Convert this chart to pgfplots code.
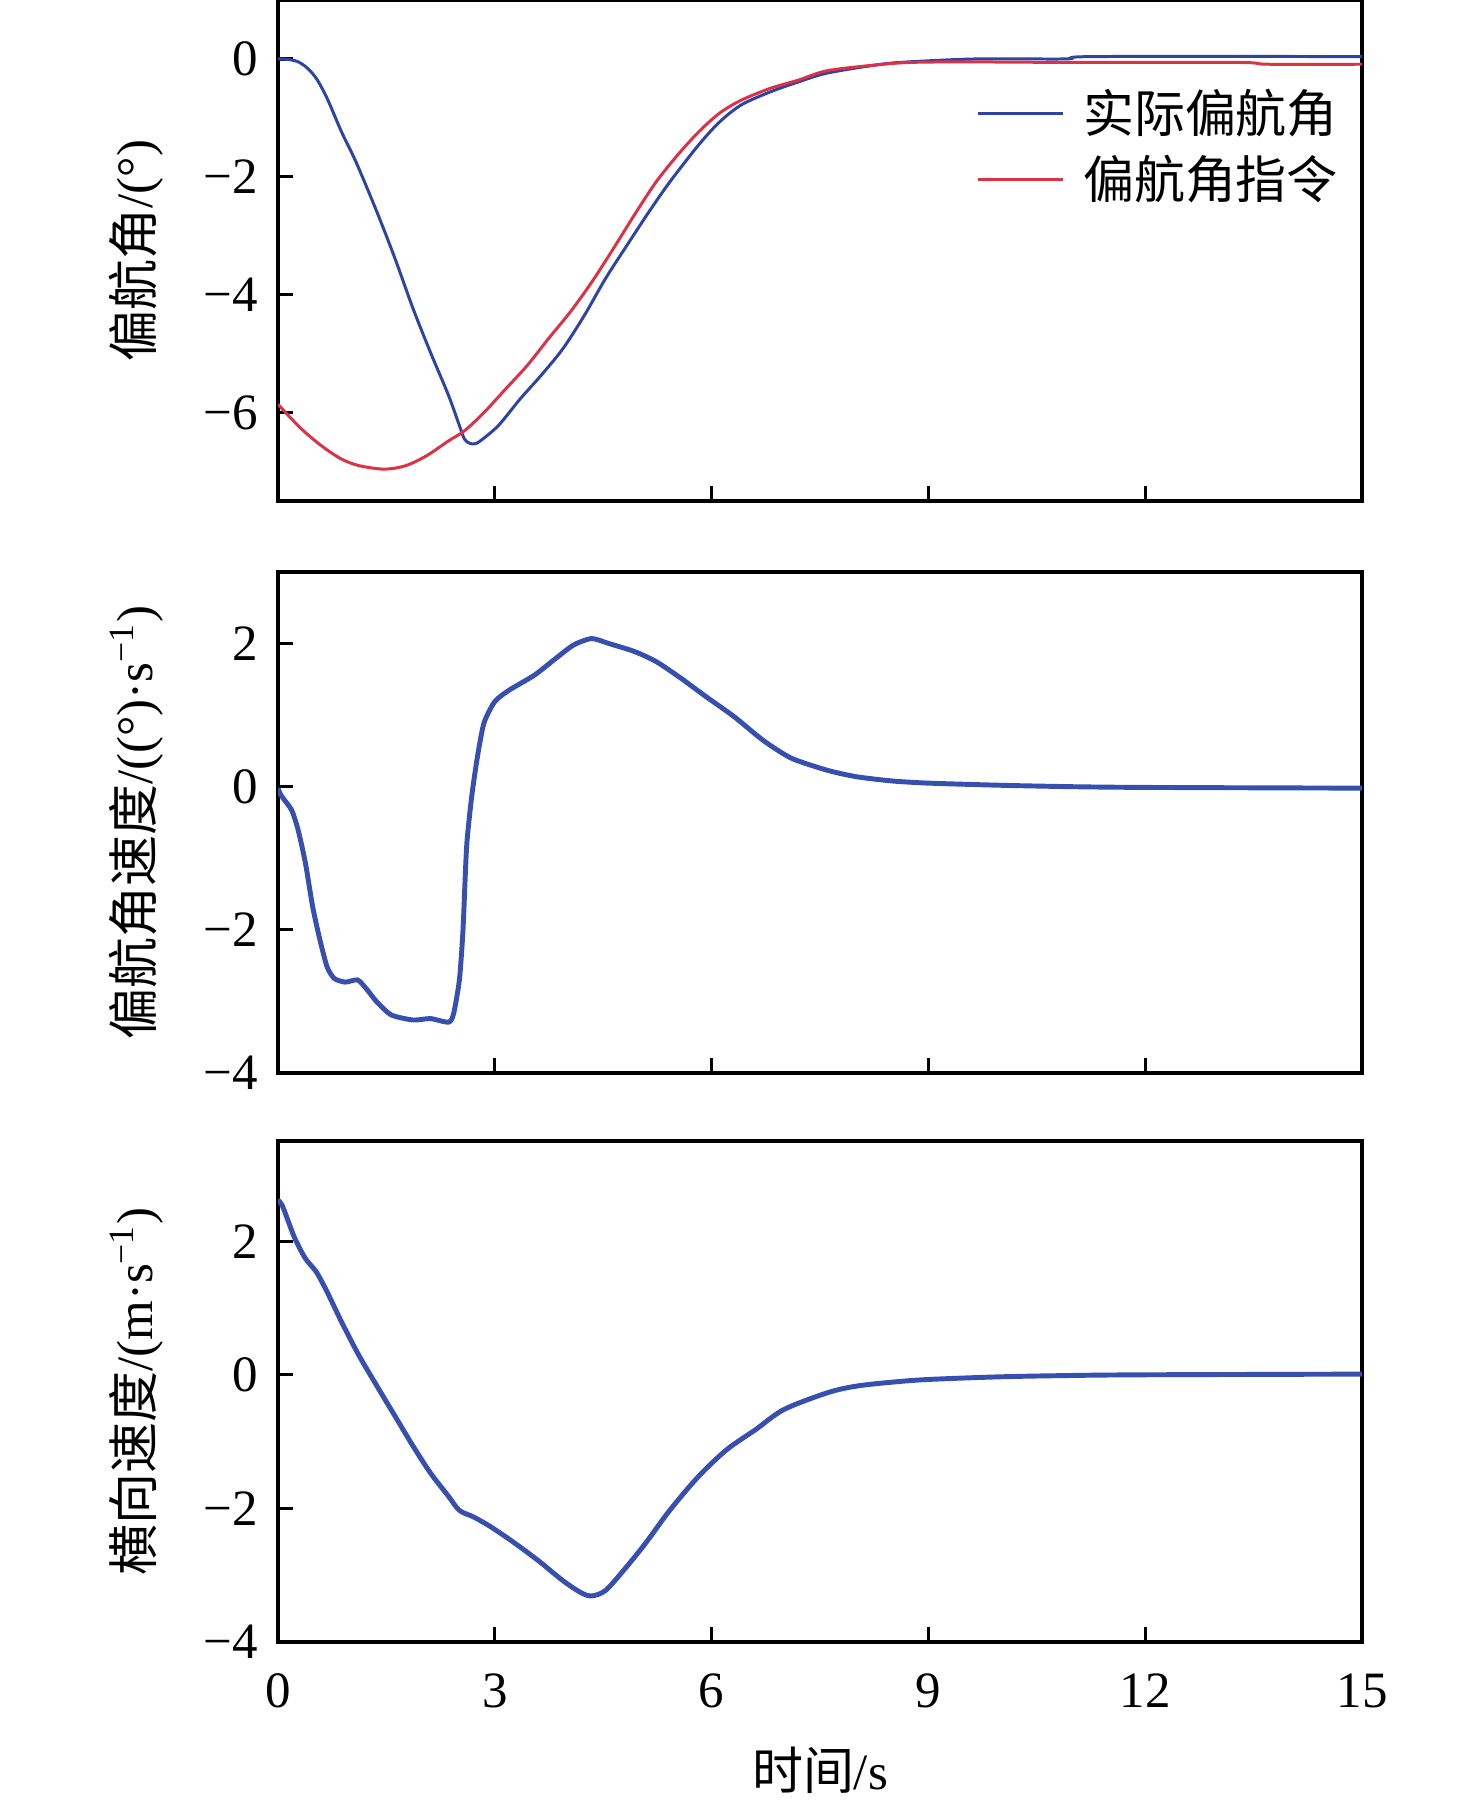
\documentclass[border=0pt]{standalone}
\usepackage{fontspec}
\setmainfont{Liberation Serif}
\newfontfamily\cjk{Noto Sans CJK SC}
\usepackage{pgfplots}
\pgfplotsset{compat=1.18}
\definecolor{cblue}{RGB}{45,68,165}
\definecolor{cblueb}{RGB}{55,80,175}
\definecolor{cred}{RGB}{220,50,72}
\pgfplotsset{
  base/.style={
    width=10.84cm, height=5.01cm, scale only axis,
    xmin=0, xmax=15,
    axis line style={line width=0.9pt},
    tick style={line width=0.9pt, black},
    major tick length=1.5mm, tick align=inside,
    xtick pos=bottom, ytick pos=left,
    xtick={0,3,6,9,12,15},
    font=\fontsize{14.5}{17}\selectfont,
    ylabel style={at={(axis description cs:-0.131,0.5)}, anchor=center},
    yticklabel style={xshift=-0.8mm},
    xticklabel style={yshift=-1.9mm},
    clip=true,
  }
}
\begin{document}
\begin{tikzpicture}
\path[use as bounding box] (0cm,0cm) rectangle (14.76cm,18.08cm);
% ---------- top ----------
\begin{axis}[base,
  at={(2.78cm,13.07cm)}, anchor=south west,
  ymin=-7.5, ymax=1,
  ytick={-6,-4,-2,0}, yticklabels={−6,−4,−2,0},
  xticklabels={},
  ylabel={{\cjk 偏航角}/(°)},
  legend style={draw=none, fill=none, at={(0.9946,0.852)}, anchor=north east,
    font=\fontsize{14.5}{17}\selectfont, row sep=0.4mm,
    legend cell align=left},
  legend image code/.code={\draw[#1] (0cm,0cm) -- (0.85cm,0cm);},
]
\addplot[cblue, line width=0.85pt, smooth, tension=0.5] coordinates {
(0,0) (0.15,-0.01) (0.28,-0.05) (0.4,-0.15) (0.53,-0.33) (0.68,-0.67)
(0.88,-1.24) (1.08,-1.75) (1.37,-2.6) (1.62,-3.39) (1.87,-4.24)
(2.11,-4.98) (2.36,-5.71) (2.51,-6.22) (2.58,-6.45) (2.65,-6.52)
(2.72,-6.53) (2.80,-6.48) (3.05,-6.22) (3.35,-5.77) (3.64,-5.37)
(3.94,-4.92) (4.24,-4.35) (4.53,-3.73) (4.83,-3.16) (5.13,-2.60)
(5.42,-2.09) (5.82,-1.46) (6.11,-1.07) (6.41,-0.78) (6.81,-0.56)
(7.2,-0.39) (7.6,-0.24) (8.29,-0.10) (8.73,-0.05) (9.67,0.0)
(10.9,0.0) (11.3,0.04) (15,0.04)
};
\addlegendentry{\hspace{1.15mm}{\cjk 实际偏航角}}
\addplot[cred, line width=0.85pt, smooth, tension=0.5] coordinates {
(0,-5.86) (0.19,-6.11) (0.38,-6.34) (0.63,-6.59) (0.88,-6.79)
(1.12,-6.90) (1.47,-6.96) (1.77,-6.90) (2.06,-6.73) (2.36,-6.48)
(2.58,-6.31) (2.85,-6.00) (3.15,-5.60) (3.45,-5.20) (3.74,-4.75)
(4.04,-4.30) (4.34,-3.79) (4.64,-3.22) (4.93,-2.65) (5.23,-2.09)
(5.53,-1.63) (5.82,-1.24) (6.11,-0.92) (6.41,-0.70) (6.81,-0.50)
(7.2,-0.36) (7.6,-0.20) (8.29,-0.10) (8.73,-0.06) (9.5,-0.05)
(11.06,-0.06) (13.3,-0.06) (13.7,-0.09) (15,-0.09)
};
\addlegendentry{\hspace{1.15mm}{\cjk 偏航角指令}}
\end{axis}
% ---------- middle ----------
\begin{axis}[base,
  at={(2.78cm,7.35cm)}, anchor=south west,
  ymin=-4, ymax=3,
  ytick={-4,-2,0,2}, yticklabels={−4,−2,0,2},
  xticklabels={},
  ylabel={{\cjk 偏航角速度}/((°)·s\textsuperscript{−1})},
]
\addplot[cblueb, line width=1.4pt, smooth, tension=0.4] coordinates {
(0,-0.02) (0.03,-0.1) (0.07,-0.16) (0.19,-0.33) (0.28,-0.61) (0.38,-1.07)
(0.48,-1.68) (0.58,-2.14) (0.68,-2.52) (0.78,-2.68) (0.93,-2.73)
(1.10,-2.70) (1.22,-2.82) (1.37,-3.01) (1.57,-3.19) (1.87,-3.26)
(2.11,-3.24) (2.36,-3.29) (2.43,-3.17) (2.51,-2.70) (2.56,-2.00)
(2.61,-0.84) (2.68,-0.14) (2.76,0.42) (2.85,0.89) (3.00,1.19)
(3.20,1.35) (3.55,1.56) (3.84,1.79) (4.09,1.98) (4.34,2.07)
(4.58,2.00) (4.93,1.89) (5.23,1.75) (5.57,1.52) (5.92,1.26)
(6.31,0.98) (6.71,0.65) (7.10,0.40) (7.6,0.23) (8.0,0.14)
(8.5,0.08) (9.0,0.05) (10,0.02) (11,0.0) (12,-0.01) (15,-0.02)
};
\end{axis}
% ---------- bottom ----------
\begin{axis}[base,
  at={(2.78cm,1.66cm)}, anchor=south west,
  ymin=-4, ymax=3.5,
  ytick={-4,-2,0,2}, yticklabels={−4,−2,0,2},
  xticklabels={0,3,6,9,12,15},
  ylabel={{\cjk 横向速度}/(m·s\textsuperscript{−1})},
  xlabel={{\cjk 时间}/s},
  xlabel style={at={(axis description cs:0.5,-0.2555)}, anchor=center},
]
\addplot[cblueb, line width=1.4pt, smooth, tension=0.5] coordinates {
(0,2.62) (0.05,2.55) (0.09,2.45) (0.23,2.05) (0.38,1.74) (0.53,1.54)
(0.68,1.24) (0.88,0.79) (1.12,0.29) (1.37,-0.17) (1.62,-0.62)
(1.87,-1.07) (2.11,-1.47) (2.36,-1.82) (2.51,-2.03) (2.71,-2.13)
(2.95,-2.28) (3.25,-2.50) (3.60,-2.78) (3.94,-3.08) (4.19,-3.26)
(4.34,-3.31) (4.53,-3.23) (4.78,-2.93) (5.08,-2.53) (5.42,-2.03)
(5.82,-1.52) (6.21,-1.12) (6.61,-0.82) (7.00,-0.52) (7.6,-0.27)
(8.0,-0.17) (8.5,-0.11) (9.0,-0.07) (10,-0.03) (11,-0.01) (12,0.0)
(15,0.01)
};
\end{axis}
\end{tikzpicture}
\end{document}
